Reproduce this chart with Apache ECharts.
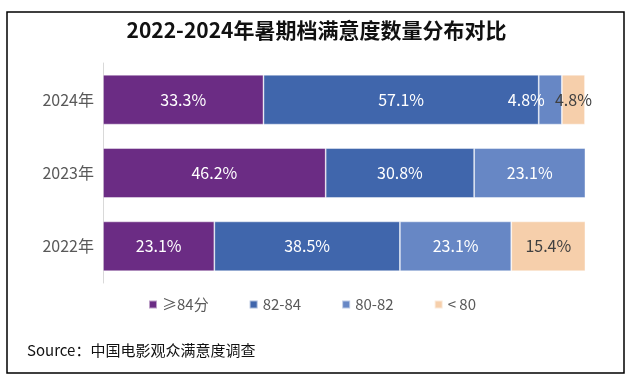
<!DOCTYPE html>
<html>
<head>
<meta charset="utf-8">
<script src="https://cdn.jsdelivr.net/npm/echarts@6/dist/echarts.min.js"></script>
<style>
html,body{margin:0;padding:0;background:#fff;}
#c{width:633px;height:387px;}
</style>
</head>
<body>
<div id="c"></div>
<script>
const categories = ['2022年', '2023年', '2024年'];
const seriesNames = ['≥84分', '82-84', '80-82', '< 80'];
const s84 = [23.1, 46.2, 33.3];
const s8284 = [38.5, 30.8, 57.1];
const s8082 = [23.1, 23.1, 4.8];
const sLt80 = [15.4, null, 4.8];
const colors = ['#6B2C84', '#4066AC', '#6787C5', '#F6CFAB'];
const labelColors = ['#fff', '#fff', '#fff', '#404040'];
const dataSets = [s84, s8284, s8082, sLt80];

const FONT = '"Noto Sans CJK SC", "Noto Sans", sans-serif';

function buildData(d, i) {
  return d.map((v, j) => {
    if (i === 2 && categories[j] === '2024年') {
      return {value: v, label: {offset: [-24, 0]}};
    }
    return v;
  });
}

const chart = echarts.init(document.getElementById('c'), null, {renderer: 'canvas'});
chart.setOption({
  animation: false,
  backgroundColor: '#fff',
  textStyle: {fontFamily: FONT},
  title: {
    text: '2022-2024年暑期档满意度数量分布对比',
    left: 'center',
    top: 15,
    textStyle: {fontSize: 21, fontWeight: 'bold', color: '#111', fontFamily: FONT}
  },
  legend: {
    left: 143,
    top: 292,
    itemWidth: 8,
    itemHeight: 8,
    itemGap: 40,
    icon: 'rect',
    textStyle: {fontSize: 15, color: '#595959', fontFamily: FONT, width: 42},
    data: seriesNames
  },
  grid: {left: 103, right: 48, top: 63, bottom: 104},
  xAxis: {
    type: 'value', min: 0, max: 100, show: false
  },
  yAxis: {
    type: 'category',
    data: categories,
    axisLine: {show: true, lineStyle: {color: '#d9d9d9', width: 1}},
    axisTick: {show: false},
    axisLabel: {fontSize: 16, color: '#595959', margin: 9, fontFamily: FONT}
  },
  series: dataSets.map((d, i) => ({
    name: seriesNames[i],
    type: 'bar',
    stack: 'total',
    barWidth: '68%',
    data: buildData(d, i),
    itemStyle: {color: colors[i], borderColor: 'rgba(255,255,255,0.55)', borderWidth: 0.8},
    label: {
      show: true,
      position: 'inside',
      color: labelColors[i],
      fontSize: 16,
      fontFamily: FONT,
      formatter: p => p.value == null ? '' : p.value.toFixed(1) + '%'
    }
  })),
  graphic: [
    {
      type: 'rect',
      shape: {x: 7, y: 12, width: 617, height: 361},
      style: {fill: 'none', stroke: '#000', lineWidth: 1.5},
      silent: true
    },
    {
      type: 'text',
      left: 27,
      top: 343,
      style: {text: 'Source：中国电影观众满意度调查', fontSize: 15, fill: '#111', fontFamily: FONT}
    }
  ]
});
</script>
</body>
</html>
